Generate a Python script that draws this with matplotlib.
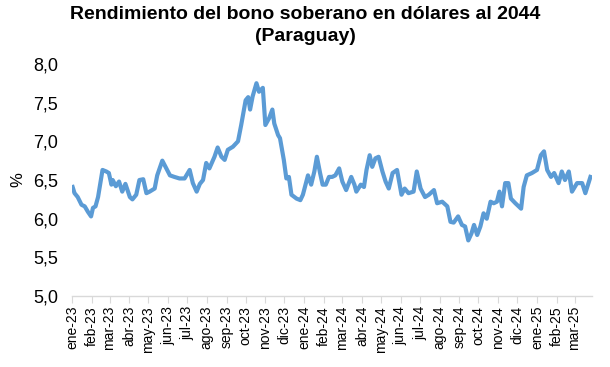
import matplotlib
matplotlib.use("Agg")
import matplotlib.pyplot as plt
import pandas as pd

plt.rcParams['font.family'] = ['Liberation Sans', 'DejaVu Sans']

# fechas y rendimiento (%)
fechas = [
    "2023-01-02", "2023-01-05", "2023-01-10", "2023-01-16", "2023-01-21", "2023-01-26", "2023-01-31",
    "2023-02-03", "2023-02-07", "2023-02-11", "2023-02-18", "2023-02-24", "2023-02-28",
    "2023-03-04", "2023-03-06", "2023-03-11", "2023-03-16", "2023-03-21", "2023-03-26",
    "2023-04-02", "2023-04-06", "2023-04-12", "2023-04-17", "2023-04-23", "2023-04-28",
    "2023-05-03", "2023-05-11", "2023-05-15", "2023-05-23", "2023-05-28",
    "2023-06-04", "2023-06-11", "2023-06-19", "2023-06-27",
    "2023-07-05", "2023-07-10", "2023-07-16", "2023-07-21", "2023-07-26", "2023-07-31",
    "2023-08-05", "2023-08-13", "2023-08-18", "2023-08-24", "2023-08-29",
    "2023-09-03", "2023-09-11", "2023-09-19", "2023-09-24",
    "2023-10-01", "2023-10-05", "2023-10-08", "2023-10-12", "2023-10-18", "2023-10-22", "2023-10-28",
    "2023-11-01", "2023-11-07", "2023-11-12", "2023-11-15", "2023-11-21", "2023-11-24", "2023-11-30",
    "2023-12-04", "2023-12-08", "2023-12-12", "2023-12-20", "2023-12-26", "2023-12-30",
    "2024-01-07", "2024-01-12", "2024-01-17", "2024-01-21", "2024-01-26", "2024-01-30",
    "2024-02-04", "2024-02-09", "2024-02-14", "2024-02-19", "2024-02-25",
    "2024-03-01", "2024-03-07", "2024-03-15", "2024-03-20", "2024-03-23", "2024-03-30",
    "2024-04-04", "2024-04-08", "2024-04-13", "2024-04-17", "2024-04-22", "2024-04-27",
    "2024-05-03", "2024-05-08", "2024-05-13", "2024-05-19", "2024-05-26",
    "2024-06-02", "2024-06-07", "2024-06-13", "2024-06-21", "2024-06-26",
    "2024-07-02", "2024-07-09", "2024-07-15", "2024-07-23", "2024-07-28",
    "2024-08-05", "2024-08-13", "2024-08-18", "2024-08-23", "2024-08-30",
    "2024-09-05", "2024-09-10", "2024-09-15", "2024-09-20", "2024-09-24", "2024-09-29",
    "2024-10-04", "2024-10-09", "2024-10-14", "2024-10-20", "2024-10-25", "2024-10-30",
    "2024-11-03", "2024-11-07", "2024-11-12", "2024-11-17", "2024-11-21", "2024-11-28",
    "2024-12-03", "2024-12-07", "2024-12-11", "2024-12-16", "2024-12-24",
    "2025-01-01", "2025-01-07", "2025-01-12", "2025-01-17", "2025-01-23", "2025-01-28",
    "2025-02-04", "2025-02-09", "2025-02-14", "2025-02-20", "2025-02-25",
    "2025-03-05", "2025-03-13", "2025-03-18", "2025-03-26",
]
rendimiento = [
    6.41, 6.33, 6.28, 6.18, 6.16, 6.09, 6.03,
    6.14, 6.16, 6.28, 6.63, 6.61, 6.59,
    6.44, 6.50, 6.42, 6.48, 6.35, 6.45,
    6.28, 6.25, 6.31, 6.50, 6.51, 6.33,
    6.35, 6.39, 6.56, 6.75, 6.67,
    6.56, 6.54, 6.52, 6.52,
    6.63, 6.46, 6.35, 6.45, 6.50, 6.72,
    6.65, 6.80, 6.92, 6.80, 6.76,
    6.89, 6.93, 7.00, 7.21,
    7.53, 7.57, 7.41, 7.58, 7.75, 7.64, 7.69,
    7.21, 7.30, 7.41, 7.23, 7.08, 7.04, 6.76,
    6.52, 6.54, 6.31, 6.26, 6.24, 6.31,
    6.56, 6.44, 6.61, 6.80, 6.59, 6.44,
    6.44, 6.54, 6.54, 6.56, 6.65,
    6.48, 6.37, 6.54, 6.44, 6.35, 6.44,
    6.41, 6.63, 6.82, 6.67, 6.78, 6.80,
    6.61, 6.48, 6.39, 6.59, 6.63,
    6.31, 6.39, 6.33, 6.35, 6.61,
    6.39, 6.28, 6.31, 6.37, 6.20,
    6.22, 6.16, 5.96, 5.95, 6.03,
    5.92, 5.90, 5.72, 5.81, 5.92, 5.79,
    5.90, 6.07, 6.00, 6.22, 6.20, 6.22,
    6.35, 6.16, 6.46, 6.46, 6.26, 6.20,
    6.16, 6.13, 6.41, 6.56, 6.59,
    6.63, 6.82, 6.87, 6.63, 6.54, 6.59,
    6.46, 6.61, 6.50, 6.61, 6.35,
    6.46, 6.46, 6.33, 6.54,
]
meses = ["ene", "feb", "mar", "abr", "may", "jun", "jul", "ago", "sep", "oct", "nov", "dic"]

x = pd.to_datetime(fechas)

fig = plt.figure(figsize=(6.1, 3.67), dpi=100)
ax = fig.add_axes([0.118, 0.193, 0.852, 0.633])

ax.plot(x, rendimiento, color='#5B9BD5', linewidth=3.0, solid_joinstyle='round')

ax.set_ylim(5.0, 8.0)
ax.set_yticks([5.0, 5.5, 6.0, 6.5, 7.0, 7.5, 8.0])
ax.set_yticklabels(["{:.1f}".format(v).replace('.', ',') for v in ax.get_yticks()], fontsize=13)
ax.set_xlim(pd.Timestamp("2023-01-01"), pd.Timestamp("2025-03-28"))

ticks = pd.date_range("2023-01-01", "2025-03-01", freq="MS")
ax.set_xticks(ticks)
ax.set_xticklabels(["{}-{}".format(meses[t.month - 1], str(t.year)[2:]) for t in ticks],
                   rotation=90, fontsize=10)

for s in ['top', 'right', 'left']:
    ax.spines[s].set_visible(False)
ax.spines['bottom'].set_color('#d9d9d9')
ax.spines['bottom'].set_linewidth(1.0)
ax.tick_params(axis='y', length=0, pad=10)
ax.tick_params(axis='x', length=5, color='#d9d9d9', pad=2)

ax.set_ylabel("%", fontsize=12)
ax.yaxis.set_label_coords(-0.09, 0.5)

fig.suptitle("Rendimiento del bono soberano en dólares al 2044\n(Paraguay)",
             x=0.5, y=0.985, fontsize=14, fontweight='bold', linespacing=1.4)

fig.savefig("out.png", dpi=100)
